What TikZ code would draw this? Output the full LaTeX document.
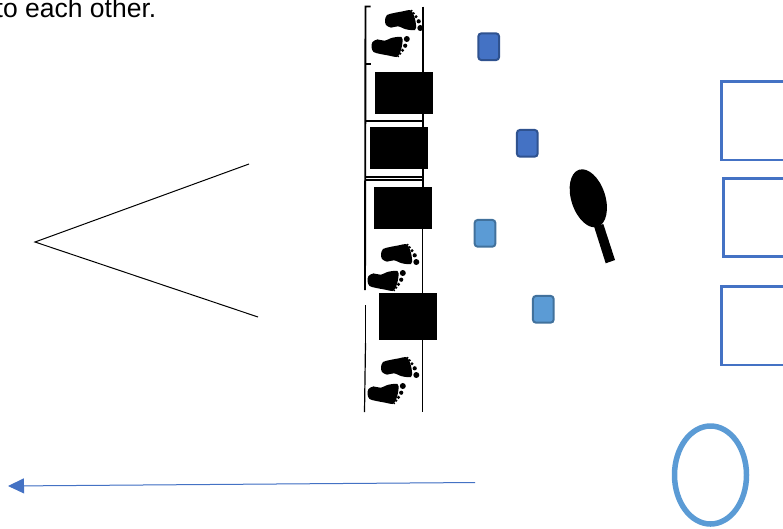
\documentclass[tikz,border=0pt]{standalone}
\usepackage{fontspec}
\setmainfont{Liberation Sans}
\usetikzlibrary{arrows.meta,shapes.geometric}
\definecolor{darkblue}{HTML}{4472C4}
\definecolor{darkedge}{HTML}{2F528F}
\definecolor{lightblue}{HTML}{5B9BD5}
\definecolor{lightedge}{HTML}{41719C}
\tikzstyle{pad}=[rectangle,rounded corners=3pt,minimum width=20.7pt,minimum height=26.7pt,inner sep=0pt,outer sep=0pt,line width=2pt]
\tikzstyle{padd}=[pad,fill=darkblue,draw=darkedge]
\tikzstyle{padl}=[pad,fill=lightblue,draw=lightedge]
\tikzstyle{cover}=[rectangle,fill=black,minimum width=58pt,inner sep=0pt,outer sep=0pt]
\tikzstyle{court}=[rectangle,draw=darkblue,line width=2.6pt,minimum width=82pt,minimum height=78.3pt,inner sep=0pt,outer sep=0pt]
\tikzstyle{track}=[line width=1.9pt]
\tikzstyle{thintrack}=[line width=1.2pt]
\tikzset{
  foot/.pic={
    \fill[black] plot[smooth cycle] coordinates {(0,0) (2,-5) (9,-7) (18,-8.7) (25,-10) (28,-6.7) (30,-1) (31,5) (30,10) (21,9.3) (13,6.3) (6,7.6) (1,5)};
    \fill[black] (35.3,8) circle (3pt);
    \fill[black] (33.7,1.3) circle (2.1pt);
    \fill[black] (31,-3.3) circle (1.7pt);
    \fill[black] (28.7,-6.7) circle (1.3pt);
    \fill[black] (26.7,-9.3) circle (1pt);
  },
  feet/.pic={
    \pic {foot};
    \pic[shift={(-13.5,27)},yscale=-1] {foot};
  }
}

\begin{document}
\begin{tikzpicture}[x=1pt,y=-1pt]
\useasboundingbox (0,0) rectangle (783,528);
\node[anchor=base west,inner sep=0pt,font=\fontsize{26.5}{30}\selectfont] (note) at (-4.5,17.5) {to each other.};
% wedge
\coordinate (apex) at (35,242);
\coordinate (upper) at (249,164);
\coordinate (lower) at (258,317);
\draw[line width=1pt] (upper)--(apex)--(lower);
% track
\coordinate (lefttop) at (365.5,6.5);
\coordinate (leftgap) at (365,290);
\coordinate (leftback) at (365.5,305);
\coordinate (leftthin) at (365.5,343);
\coordinate (leftend) at (364.5,412);
\coordinate (righttop) at (422.7,6.5);
\coordinate (rightmid) at (422.7,229);
\coordinate (rightend) at (422.7,412);
\draw[track] (leftgap)--(lefttop)--++(5,0);
\draw[track] (leftback)--(leftthin);
\draw[thintrack] (leftthin)--(leftend);
\draw[track] (righttop)--(rightmid);
\draw[thintrack] (rightmid)--(rightend);
\draw[track] (365.5,64)--++(5,0);
\draw[track] (365.5,120.7)--(422.7,120.7);
\draw[track] (365.5,177.2)--(422.7,177.2);
\draw[track] (365.5,180)--(422.7,180);
\pic[shift={(385,20)},scale=0.92] {feet};
\pic at (381,254) {feet};
\pic at (381,367) {feet};
\node[cover,minimum height=42pt] (coverA) at (404,93) {};
\node[cover,minimum height=42pt] (coverB) at (399,148) {};
\node[cover,minimum height=42pt] (coverC) at (403,208) {};
\node[cover,minimum height=47pt] (coverD) at (408,316.5) {};
% pads
\node[padd] (padA) at (488.7,46.7) {};
\node[padd] (padB) at (527.3,143.3) {};
\node[padl] (padC) at (485,233.3) {};
\node[padl] (padD) at (543.3,309.3) {};
% racket
\fill[black] (594.3,227.3)--(605.7,263.3)--(615,260)--(603.3,224)--cycle;
\fill[black,rotate around={18:(588.3,198.3)}] (588.3,198.3) ellipse (17pt and 30pt);
% right boxes
\node[court] (courtA) at (762.7,120.85) {};
\node[court] (courtB) at (764.5,217.5) {};
\node[court] (courtC) at (762.7,325.85) {};
\node[ellipse,draw=lightblue,line width=5.5pt,minimum width=72pt,minimum height=98pt,inner sep=0pt,outer sep=0pt] (ring) at (710.5,475) {};
% arrow
\coordinate (start) at (475,482.5);
\coordinate (end) at (8,486);
\draw[-{Triangle[length=16pt,width=15pt]},draw=darkblue,fill=darkblue,line width=1pt] (start)--(end);
\end{tikzpicture}
\end{document}
